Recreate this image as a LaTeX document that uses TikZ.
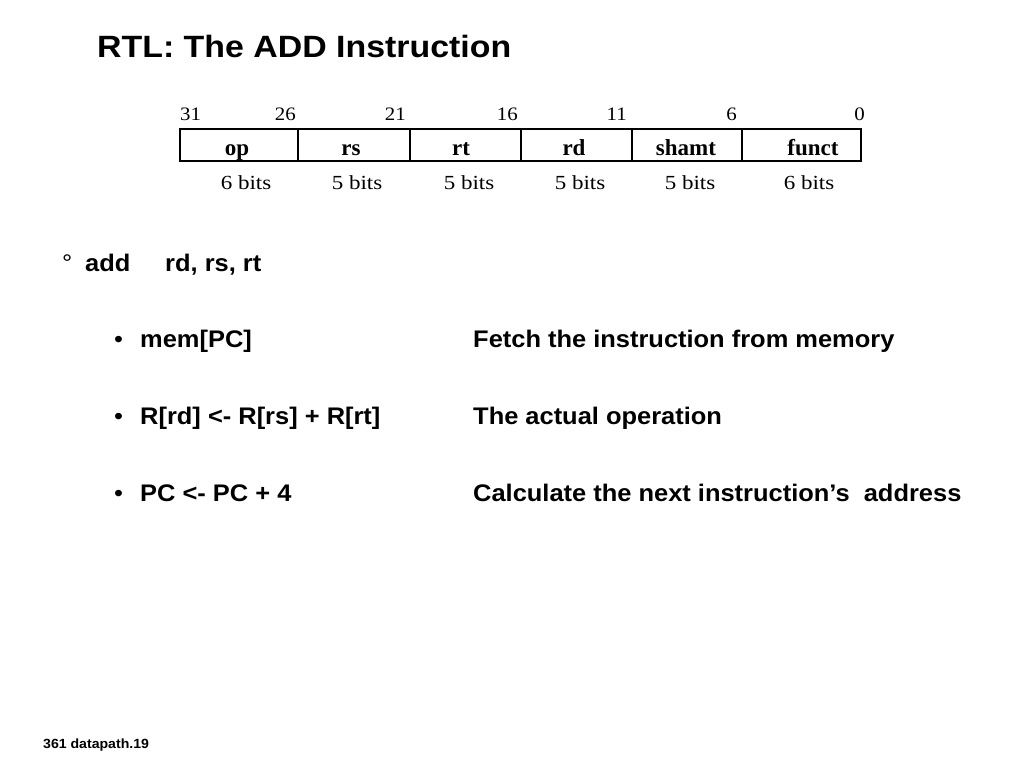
\documentclass[tikz,border=0pt]{standalone}
\usepackage{fontspec}
\setmainfont{Liberation Serif}
\newfontfamily\wideserif[FakeStretch=1.15]{Liberation Serif}
\newfontfamily\numserif[FakeStretch=1.1]{Liberation Serif}
\newfontfamily\arial[FakeStretch=1.06]{Liberation Sans}
\newfontfamily\titlefont[FakeStretch=1.1]{Liberation Sans}
\tikzset{
  field/.style={draw, line width=2.2pt, inner sep=0pt, minimum height=32pt},
  bitnum/.style={font=\numserif\fontsize{19}{19}\selectfont, inner sep=0pt},
  bitwidth/.style={font=\wideserif\fontsize{20}{20}\selectfont, inner sep=0pt, anchor=base},
  fname/.style={font=\fontsize{23}{23}\selectfont\bfseries, inner sep=0pt, anchor=base},
  body/.style={font=\arial\fontsize{24}{24}\selectfont\bfseries, inner sep=0pt, anchor=base west},
  bulletmark/.style={font=\arial\fontsize{24}{24}\selectfont, inner sep=0pt, anchor=base west}
}
\begin{document}
\begin{tikzpicture}[x=1pt, y=-1pt]
\useasboundingbox (0, 0) rectangle (1024, 768);

\node[font=\titlefont\fontsize{30.8}{31}\selectfont\bfseries, inner sep=0pt, anchor=base west] (title) at (97, 57) {RTL: The ADD Instruction};

% instruction format
\node[field, minimum width=118pt] (op) at (239, 145) {};
\node[field, minimum width=112pt] (rs) at (354, 145) {};
\node[field, minimum width=111pt] (rt) at (465.5, 145) {};
\node[field, minimum width=111pt] (rd) at (576.5, 145) {};
\node[field, minimum width=110pt] (shamt) at (687, 145) {};
\node[field, minimum width=119pt] (funct) at (801.5, 145) {};

\node[fname] (opname) at (237, 155) {op};
\node[fname] (rsname) at (351, 155) {rs};
\node[fname] (rtname) at (461, 155) {rt};
\node[fname] (rdname) at (574, 155) {rd};
\node[fname] (shamtname) at (686, 155) {shamt};
\node[fname] (functname) at (813, 155) {funct};

\node[bitnum, anchor=base west] (b31) at (180, 120) {31};
\node[bitnum, anchor=base east] (b26) at (296, 120) {26};
\node[bitnum, anchor=base east] (b21) at (406, 120) {21};
\node[bitnum, anchor=base east] (b16) at (518, 120) {16};
\node[bitnum, anchor=base east] (b11) at (627, 120) {11};
\node[bitnum, anchor=base east] (b6) at (737, 120) {6};
\node[bitnum, anchor=base east] (b0) at (865, 120) {0};

\node[bitwidth] (w1) at (246, 189) {6 bits};
\node[bitwidth] (w2) at (357, 189) {5 bits};
\node[bitwidth] (w3) at (469, 189) {5 bits};
\node[bitwidth] (w4) at (580, 189) {5 bits};
\node[bitwidth] (w5) at (690, 189) {5 bits};
\node[bitwidth] (w6) at (809, 189) {6 bits};

% the instruction and its steps
\node[bulletmark] (deg) at (62, 271) {°};
\node[body] (add) at (85, 271) {add};
\node[body] (ops) at (165, 271) {rd, rs, rt};

\node[bulletmark] (dot1) at (114, 347) {•};
\node[body] (fetch) at (140, 347) {mem[PC]};
\node[body] (fetchtxt) at (473, 347) {Fetch the instruction from memory};

\node[bulletmark] (dot2) at (114, 424) {•};
\node[body] (oper) at (140, 424) {R[rd] <- R[rs] + R[rt]};
\node[body] (opertxt) at (473, 424) {The actual operation};

\node[bulletmark] (dot3) at (114, 501) {•};
\node[body] (incr) at (140, 501) {PC <- PC + 4};
\node[body] (incrtxt) at (473, 501) {Calculate the next instruction’s\ \ address};

\node[body, font=\arial\fontsize{13.3}{14}\selectfont\bfseries] (footer) at (43, 748) {361 datapath.19};
\end{tikzpicture}
\end{document}
